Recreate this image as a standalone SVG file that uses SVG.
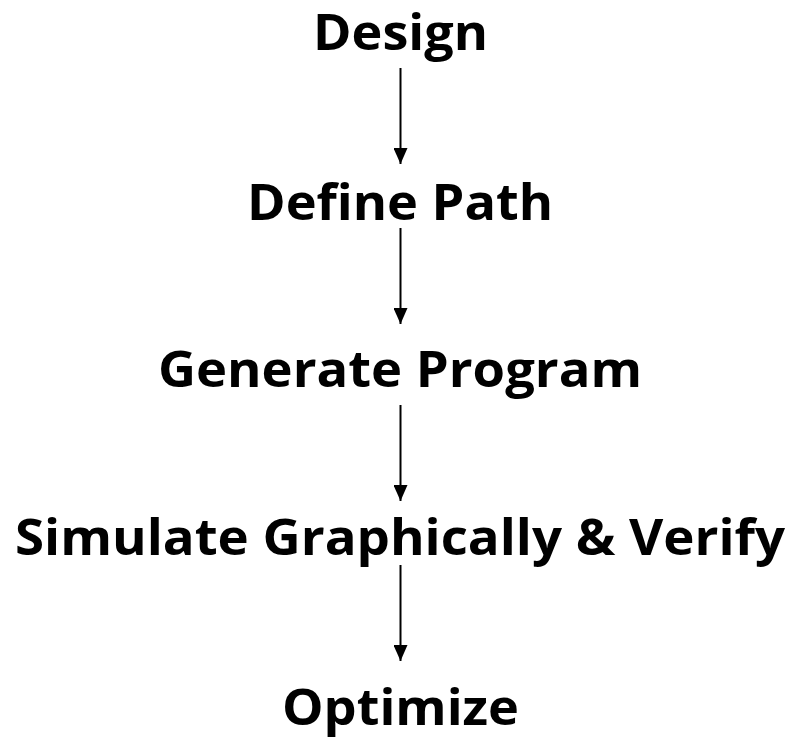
<svg xmlns="http://www.w3.org/2000/svg" width="794" height="737" viewBox="0 0 794 737">
<defs>
<style>
.t{font-family:"Open Sans","Noto Sans","Liberation Sans",sans-serif;font-weight:bold;font-size:51px;fill:#000;text-anchor:middle}
.c{stroke:#000;stroke-width:2;fill:none}
</style>
<marker id="ah" markerUnits="userSpaceOnUse" markerWidth="16" markerHeight="14" refX="16" refY="7" orient="auto">
<path d="M0,0 L16,7 L0,14 Z" fill="#000"/>
</marker>
</defs>
<rect width="794" height="737" fill="#fff"/>
<g id="connectors">
<line class="c" x1="400.5" y1="68" x2="400.5" y2="164" marker-end="url(#ah)"/>
<line class="c" x1="400.5" y1="228" x2="400.5" y2="324" marker-end="url(#ah)"/>
<line class="c" x1="400.5" y1="405" x2="400.5" y2="501" marker-end="url(#ah)"/>
<line class="c" x1="400.5" y1="565" x2="400.5" y2="661" marker-end="url(#ah)"/>
</g>
<g id="design"><text class="t" x="400.5" y="50" textLength="175" lengthAdjust="spacingAndGlyphs">Design</text></g>
<g id="define-path"><text class="t" x="400" y="220" textLength="306" lengthAdjust="spacingAndGlyphs">Define Path</text></g>
<g id="generate-program"><text class="t" x="400" y="387" textLength="484" lengthAdjust="spacingAndGlyphs">Generate Program</text></g>
<g id="simulate"><text class="t" x="400" y="555" textLength="770" lengthAdjust="spacingAndGlyphs">Simulate Graphically &amp; Verify</text></g>
<g id="optimize"><text class="t" x="400.5" y="725" textLength="237" lengthAdjust="spacingAndGlyphs">Optimize</text></g>
</svg>
